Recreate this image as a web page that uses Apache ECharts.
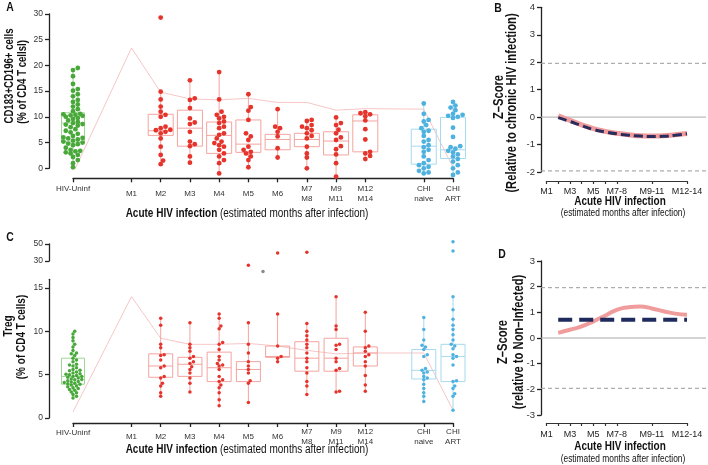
<!DOCTYPE html>
<html><head><meta charset="utf-8">
<script src="https://cdn.jsdelivr.net/npm/echarts@6/dist/echarts.min.js"></script>
<style>html,body{margin:0;padding:0;background:#fff}#c{width:708px;height:465px}</style>
</head><body><div id="c"></div>
<script>
// ---------------- DATA ----------------
const categories = ['HIV-Uninf','','M1','M2','M3','M4','M5','M6','M7\nM8','M9\nM11','M12\nM14','','CHI\nnaive','CHI\nART'];
const labelledCats = ['HIV-Uninf','M1','M2','M3','M4','M5','M6','M7\nM8','M9\nM11','M12\nM14','CHI\nnaive','CHI\nART'];

// Panel A: CD183+CD196+ (% of CD4 T cells)
const cd_HIVUninf = [19.5,19.1,17.9,16.4,15.4,15.1,14.4,14.0,13.3,12.9,12.4,12.0,11.5,11.1,10.6,10.5,10.4,10.3,10.2,10.0,9.8,9.6,9.3,9.0,8.8,8.6,8.5,8.3,8.0,7.6,7.3,7.0,6.7,6.3,6.0,5.9,5.8,5.6,5.4,5.2,5.0,4.8,4.7,4.5,4.0,3.6,3.4,3.3,3.1,2.9,2.6,2.2,1.6,1.0,0.2];
const cd_M2 = [29.3,14.9,13.4,12.0,11.0,10.4,10.0,8.1,7.8,7.5,7.4,7.1,6.8,5.8,4.2,2.6,1.5,0.8];
const cd_M3 = [17.1,13.6,13.3,11.7,9.7,8.9,8.6,7.1,5.2,4.7,4.3,2.3,1.1];
const cd_M4 = [18.7,13.4,11.0,10.4,10.0,9.7,9.1,8.8,8.1,7.8,6.8,6.5,5.8,5.2,4.9,4.5,4.2,3.6,2.9,2.3,1.6,1.0,-1.0];
const cd_M5 = [14.4,11.9,11.2,9.4,6.8,6.2,5.5,4.2,3.6,3.2,2.9,2.3,1.6,0.2];
const cd_M6 = [11.5,8.1,7.8,7.1,6.2,3.9,2.1];
const cd_M7M8 = [9.4,9.2,8.4,8.1,7.8,7.4,6.8,6.3,5.8,4.2,2.9,2.1,0.0];
const cd_M9M11 = [9.9,8.8,8.4,7.5,6.8,6.0,5.5,4.3,3.7,2.7,1.0,-1.6];
const cd_M12M14 = [10.9,10.7,10.5,10.1,9.3,7.6,5.6,3.2,2.9,2.4,1.8];
const cd_CHInaive = [12.6,10.6,9.4,9.1,8.4,7.8,7.3,7.1,6.3,5.5,5.2,4.5,4.1,3.6,3.2,2.3,1.6,1.0,0.6,0.3,0.0,-0.5,-0.8,-1.0];
const cd_CHIART = [12.9,12.2,11.8,11.3,10.6,10.4,10.2,10.0,9.8,7.9,6.1,4.3,4.1,3.8,3.4,3.1,2.7,2.3,1.8,1.3,0.6,0.0,-0.8,-1.3];
// box stats: [category, min, Q1, median, Q3, max]
const cdBoxes = [
  ['HIV-Uninf',0.0,5.1,8.8,10.8,19.5],['M2',0.8,6.4,7.3,10.5,14.9],['M3',1.1,4.3,7.8,11.3,17.1],
  ['M4',-1.0,2.9,6.4,9.0,18.7],['M5',0.2,3.1,4.7,9.4,14.4],['M6',2.1,3.6,5.6,6.6,11.5],
  ['M7\nM8',0.0,4.2,5.6,6.8,9.4],['M9\nM11',-1.6,2.6,5.3,7.1,9.9],['M12\nM14',1.8,3.2,9.2,10.4,10.9],
  ['CHI\nnaive',-1.0,0.8,4.3,7.6,12.6],['CHI\nART',-1.3,1.9,3.6,9.9,12.9]
];
const cdTrend = [['HIV-Uninf',-1.0],['M1',23.4],['M2',14.8],['M3',13.5],['M4',13.3],['M5',13.6],['M6',12.8],['M7\nM8',12.8],['M9\nM11',11.3],['M12\nM14',11.6],['CHI\nnaive',11.5],['CHI\nART',0.2]];

// Panel C: Treg (% of CD4 T cells)
const tr_HIVUninf = [10.0,9.7,9.3,8.9,8.5,8.2,7.8,7.5,7.4,7.2,6.9,6.7,6.5,6.2,6.1,6.0,5.8,5.6,5.5,5.45,5.3,5.2,5.1,5.05,5.0,4.9,4.8,4.8,4.7,4.6,4.5,4.45,4.4,4.3,4.2,4.15,4.1,4.0,3.95,3.9,3.8,3.7,3.6,3.5,3.4,3.3,3.2,3.0,2.9,2.7,2.5,2.3];
const tr_M2 = [11.5,10.7,8.5,8.1,7.3,7.2,6.7,6.0,5.8,4.8,4.6,4.0,3.7,2.9,2.5];
const tr_M3 = [11.0,8.5,8.1,7.7,7.1,6.9,6.5,6.3,5.9,5.6,5.2,4.6,4.0,3.0];
const tr_M4 = [12.0,11.5,10.6,10.3,8.7,8.5,7.9,7.1,6.7,6.3,6.1,6.0,5.6,4.8,4.4,4.2,3.8,3.5,2.9,2.1,1.4];
const tr_M5 = [25.0,11.0,8.5,7.5,6.5,6.0,5.6,5.2,4.3,4.0,1.8];
const tr_M6 = [39.4,12.0,8.3,7.1,6.9,6.5];
const tr_M7M8 = [40.2,10.9,10.0,9.5,9.0,8.5,8.1,7.5,6.9,6.5,5.8,5.2,4.2,3.7,2.7];
const tr_M9M11 = [14.0,10.6,10.2,8.5,8.4,7.9,6.9,6.5,5.7,5.5,3.1,3.0];
const tr_M12M14 = [12.2,10.0,8.3,8.1,7.7,7.3,7.1,6.5,6.0,4.9,3.8,3.1];
const tr_CHInaive = [11.6,10.2,9.0,8.4,8.2,7.9,7.3,7.1,5.7,5.5,5.3,5.2,4.8,4.6,4.4,3.9,3.4,2.9,2.5,1.9];
const tr_CHIART = [52.7,41.8,14.0,12.5,11.4,10.7,10.2,9.6,9.0,8.5,8.3,8.0,7.3,7.1,6.9,6.1,4.3,4.2,3.7,3.4,2.8,2.5,0.9];
const tr_other = [[6.5,16.9]];
const trBoxes = [
  ['HIV-Uninf',2.3,3.9,4.8,6.9,10.0],['M2',2.5,4.7,6.0,7.4,11.5],['M3',3.0,4.8,6.2,7.0,11.0],
  ['M4',1.4,4.2,5.8,7.6,12.0],['M5',1.8,4.2,5.6,6.5,11.0],['M6',6.5,7.0,7.1,8.3,12.0],
  ['M7\nM8',2.7,5.4,6.9,8.8,10.9],['M9\nM11',3.0,5.4,6.9,9.2,14.0],['M12\nM14',3.1,6.0,7.5,8.2,12.2],
  ['CHI\nnaive',1.9,4.5,5.5,7.9,11.6],['CHI\nART',0.9,4.2,7.1,8.5,14.0]
];
const trTrend = [['HIV-Uninf',0.7],['M1',14.0],['M2',9.2],['M3',8.5],['M4',8.5],['M5',8.6],['M6',8.3],['M7\nM8',7.8],['M9\nM11',7.4],['M12\nM14',7.5],['CHI\nnaive',7.5],['CHI\nART',0.9]];

// Panels B and D: Z-scores by month
const monthTicks = [1,2,3,4,5,6,7,10,13];
const monthLabelVals = [1,3,5,7,10,13];
const monthLabelText = ['M1','M3','M5','M7-8','M9-11','M12-14'];
const zMonths = [2,3,4,5,6,7,8,9,10,11,12,13];
const zB_pink = [0.05,-0.12,-0.28,-0.42,-0.52,-0.59,-0.64,-0.68,-0.69,-0.68,-0.64,-0.60];
const zB_navy = [-0.02,-0.16,-0.31,-0.45,-0.54,-0.61,-0.66,-0.69,-0.71,-0.70,-0.66,-0.61];
const zD_pink = [0.20,0.32,0.45,0.65,0.87,1.10,1.20,1.23,1.15,1.04,0.95,0.91];
const zD_navy = [0.71,0.71,0.71,0.71,0.71,0.71,0.71,0.71,0.71,0.71,0.71,0.71];
const zLimit = 1.96;

// ---------------- STYLE ----------------
const FONT = '"Liberation Sans", Arial, sans-serif';
const SX = 0.8; // horizontal condensing of title text (narrow typeface look)
const GREEN = '#48a83a', GREEN_L = '#9ed795';
const RED = '#e5342c', RED_L = '#f3a4a0';
const BLUE = '#4fb1df', BLUE_L = '#a6daef';
const TREND = '#f7c6c6';
const AXC = '#222';
function grpColor(c){ return c==='HIV-Uninf' ? [GREEN,GREEN_L] : (c.indexOf('CHI')===0 ? [BLUE,BLUE_L] : [RED,RED_L]); }
const catIdx = c => categories.indexOf(c);

const A_LEFT = 73, A_W = 380, PX_PER_X = A_W/13;

// beeswarm (layout only: horizontal offsets in px)
function swarm(values, pxPerUnit, diam, maxHalf){
  const order = values.map((v,i)=>i).sort((a,b)=>values[a]-values[b]);
  const placed = []; const offs = new Array(values.length).fill(0);
  const step = diam*0.5;
  const cands=[0]; for(let s=1;s*step<=maxHalf;s++){cands.push(s*step,-s*step);}
  for (const i of order){
    const y = values[i]*pxPerUnit;
    let best=0, bestD=-1;
    for (const dx of cands){
      let md = Infinity;
      for (const p of placed){ const d=(p.x-dx)*(p.x-dx)+(p.y-y)*(p.y-y); if(d<md) md=d; }
      if (md >= diam*diam*0.7){ best=dx; bestD=Infinity; break; }
      if (md > bestD){ bestD=md; best=dx; }
    }
    offs[i]=best; placed.push({x:best,y:y});
  }
  return offs;
}
function buildPoints(groups, pxPerUnit, diam, maxHalf, filter){
  const out = {g:[],r:[],b:[]};
  groups.forEach(([c, vals])=>{
    const v = vals.filter(filter);
    const offs = swarm(v, pxPerUnit, diam, maxHalf);
    const key = c==='HIV-Uninf'?'g':(c.indexOf('CHI')===0?'b':'r');
    v.forEach((val,i)=> out[key].push([catIdx(c)+offs[i]/PX_PER_X, val]));
  });
  return out;
}
const cdGroups = [['HIV-Uninf',cd_HIVUninf],['M2',cd_M2],['M3',cd_M3],['M4',cd_M4],['M5',cd_M5],['M6',cd_M6],['M7\nM8',cd_M7M8],['M9\nM11',cd_M9M11],['M12\nM14',cd_M12M14],['CHI\nnaive',cd_CHInaive],['CHI\nART',cd_CHIART]];
const trGroups = [['HIV-Uninf',tr_HIVUninf],['M2',tr_M2],['M3',tr_M3],['M4',tr_M4],['M5',tr_M5],['M6',tr_M6],['M7\nM8',tr_M7M8],['M9\nM11',tr_M9M11],['M12\nM14',tr_M12M14],['CHI\nnaive',tr_CHInaive],['CHI\nART',tr_CHIART]];

const A_PXU = 154.3/30, C_PXU = 138.7/16, CU_PXU = 17/20;
const ptsA = buildPoints(cdGroups, A_PXU, 4.8, 10, v=>true);
const ptsC = buildPoints(trGroups, C_PXU, 3.5, 10, v=>v<=20);
const ptsCU = buildPoints(trGroups, CU_PXU*4, 3.5, 10, v=>v>20);

function boxSeries(boxes, xi, yi, widthFn){
  return {
    type:'custom', xAxisIndex:xi, yAxisIndex:yi, z:3, clip:false, silent:true,
    data: boxes.map(b=>[catIdx(b[0]), b[1], b[2], b[3], b[4], b[5]]),
    encode:{x:0, y:[1,2,3,4,5]},
    renderItem:(params, api)=>{
      const x = api.value(0);
      const c = boxes[params.dataIndex][0];
      const col = grpColor(c)[1];
      const hw = widthFn(c)/2;
      const pMin = api.coord([x, api.value(1)]), pQ1 = api.coord([x, api.value(2)]);
      const pMed = api.coord([x, api.value(3)]), pQ3 = api.coord([x, api.value(4)]);
      const pMax = api.coord([x, api.value(5)]);
      const st = {stroke:col, lineWidth:1, fill:null};
      return {type:'group', children:[
        {type:'line', shape:{x1:pMin[0],y1:pMin[1],x2:pQ1[0],y2:pQ1[1]}, style:st},
        {type:'line', shape:{x1:pQ3[0],y1:pQ3[1],x2:pMax[0],y2:pMax[1]}, style:st},
        {type:'rect', shape:{x:pQ3[0]-hw, y:pQ3[1], width:hw*2, height:pQ1[1]-pQ3[1]}, style:{stroke:col,lineWidth:1,fill:'rgba(255,255,255,0)'}},
        {type:'line', shape:{x1:pMed[0]-hw,y1:pMed[1],x2:pMed[0]+hw,y2:pMed[1]}, style:st}
      ]};
    }
  };
}
function scatter(data, color, xi, yi, size){
  return {type:'scatter', xAxisIndex:xi, yAxisIndex:yi, data:data, symbolSize:size, clip:false, z:5, silent:true,
    itemStyle:{color:color, opacity:1}};
}
function trendSeries(trend, xi, yi){
  return {type:'line', xAxisIndex:xi, yAxisIndex:yi, data:trend.map(t=>[catIdx(t[0]), t[1]]), symbol:'none', z:1, silent:true,
    lineStyle:{color:TREND, width:1}};
}
function refLines(xi, yi){
  const mk = (v, type, col)=>({type:'line', xAxisIndex:xi, yAxisIndex:yi, data:[[0,v],[1,v]], symbol:'none', silent:true, z:1,
    lineStyle:{color:col, width:1, type:type}});
  return [mk(zLimit,[4,3],'#9a9a9a'), mk(-zLimit,[4,3],'#9a9a9a'), mk(0,'solid','#aaaaaa')];
}

const catLabelFmt = v => { const c = categories[Math.round(v)]; return c==='HIV-Uninf' ? '{u|HIV-Uninf}' : c; };
const catTickVals = labelledCats.map(catIdx);
function catXAxis(gi, offset, margin, up){
  return {type:'value', gridIndex:gi, min:0, max:13, offset:offset,
    axisLine:{show:true, onZero:false, lineStyle:{color:AXC, width:1.3}},
    axisTick:{show:true, length:4, customValues:catTickVals, lineStyle:{color:AXC, width:1.3}},
    axisLabel:{show:true, customValues:catTickVals, formatter:catLabelFmt, margin:margin, verticalAlign:'middle',
      fontSize:8, lineHeight:10, color:'#333', fontFamily:FONT,
      rich:{u:{fontSize:8, color:'#333', fontFamily:FONT, padding:[0,0,up,0]}}},
    splitLine:{show:false}};
}
function monthXAxis(gi, offset, margin){
  return {type:'value', gridIndex:gi, min:1, max:13, offset:offset,
    axisLine:{show:true, onZero:false, lineStyle:{color:'#333', width:1.2}},
    axisTick:{show:true, length:3, customValues:monthTicks, lineStyle:{color:'#333', width:1.2}},
    axisLabel:{show:true, customValues:monthLabelVals, margin:margin, verticalAlign:'middle',
      formatter:v=>monthLabelText[monthLabelVals.indexOf(Math.round(v))] || '',
      fontSize:9, color:'#222', fontFamily:FONT},
    splitLine:{show:false}};
}
function hiddenX(gi, min, max){ return {type:'value', gridIndex:gi, min:min, max:max, show:false}; }
function hiddenY(gi, min, max){ return {type:'value', gridIndex:gi, min:min, max:max, show:false}; }
function valYAxis(gi, min, max, offset, ticks, fs){
  const o = {type:'value', gridIndex:gi, min:min, max:max, offset:offset,
    axisLine:{show:true, onZero:false, lineStyle:{color:AXC, width:1.3}},
    axisTick:{show:true, length:4, lineStyle:{color:AXC, width:1.3}},
    axisLabel:{show:true, margin:6, fontSize:fs||8.5, color:'#333', fontFamily:FONT},
    splitLine:{show:false}};
  if (ticks){ o.axisTick.customValues = ticks; o.axisLabel.customValues = ticks; } else { o.interval = (max-min>10?5:1); }
  return o;
}

const titleText = (x,y,txt,rot,size,weight)=>({type:'text', x:x, y:y, rotation:rot||0, scaleX:SX, silent:true,
  style:{text:txt, fontSize:size, fontWeight:weight||'bold', fontFamily:FONT, fill:'#111', align:'center', verticalAlign:'middle'}});
const axisTitle = (x,y)=>({type:'text', x:x, y:y, scaleX:SX, silent:true,
  style:{text:'{b|Acute HIV infection} {n|(estimated months after infection)}', align:'center', verticalAlign:'middle',
    rich:{b:{fontSize:12.5, fontWeight:'bold', fontFamily:FONT, fill:'#111'}, n:{fontSize:12.5, fontFamily:FONT, fill:'#111'}}}});

const option = {
  animation:false,
  backgroundColor:'#fff',
  grid:[
    {left:A_LEFT, top:14, width:A_W, height:154.3},
    {left:A_LEFT, top:279.3, width:A_W, height:138.7},
    {left:A_LEFT, top:244, width:A_W, height:17},
    {left:546.5, top:7.3, width:140.5, height:164.7},
    {left:541, top:7.3, width:165, height:164.7},
    {left:546.5, top:261, width:140.5, height:154},
    {left:541, top:261, width:165, height:154}
  ],
  xAxis:[
    catXAxis(0, 10, 15, 10),
    catXAxis(1, 5, 14, 9),
    hiddenX(2, 0, 13),
    monthXAxis(3, 9, 11),
    hiddenX(4, 0, 1),
    monthXAxis(5, 8, 12),
    hiddenX(6, 0, 1)
  ],
  yAxis:[
    valYAxis(0, 0, 30, 24),
    valYAxis(1, 0, 16, 24, [0,5,10,15]),
    valYAxis(2, 30, 50, 24, [30,50]),
    Object.assign(valYAxis(3, -2, 4, 5.5, null, 9.5), {interval:1}),
    hiddenY(4, -2, 4),
    Object.assign(valYAxis(5, -3, 3, 5.5, null, 9.5), {interval:1}),
    hiddenY(6, -3, 3)
  ],
  series:[
    trendSeries(cdTrend, 0, 0),
    boxSeries(cdBoxes, 0, 0, c=>c==='HIV-Uninf'?23:25),
    scatter(ptsA.g, GREEN, 0, 0, 4.8), scatter(ptsA.r, RED, 0, 0, 4.8), scatter(ptsA.b, BLUE, 0, 0, 4.8),
    trendSeries(trTrend, 1, 1),
    boxSeries(trBoxes, 1, 1, c=>c==='HIV-Uninf'?23:24),
    scatter(ptsC.g, GREEN, 1, 1, 3.5), scatter(ptsC.r, RED, 1, 1, 3.5), scatter(ptsC.b, BLUE, 1, 1, 3.5),
    scatter(ptsCU.r, RED, 2, 2, 3.5), scatter(ptsCU.b, BLUE, 2, 2, 3.5),
    scatter(tr_other, '#8a8a8a', 1, 1, 3.5),
    ...refLines(4, 4),
    {type:'line', xAxisIndex:3, yAxisIndex:3, data:zMonths.map((m,i)=>[m,zB_pink[i]]), smooth:true, symbol:'none', z:2, silent:true,
      lineStyle:{color:'#f09c9c', width:5}},
    {type:'line', xAxisIndex:3, yAxisIndex:3, data:zMonths.map((m,i)=>[m,zB_navy[i]]), smooth:true, symbol:'none', z:3, silent:true,
      lineStyle:{color:'#2a2c5e', width:3, type:[9,4]}},
    ...refLines(6, 6),
    {type:'line', xAxisIndex:5, yAxisIndex:5, data:zMonths.map((m,i)=>[m,zD_pink[i]]), smooth:true, symbol:'none', z:2, silent:true,
      lineStyle:{color:'#f09c9c', width:4}},
    {type:'line', xAxisIndex:5, yAxisIndex:5, data:zMonths.map((m,i)=>[m,zD_navy[i]]), symbol:'none', z:3, silent:true,
      lineStyle:{color:'#1f2b5c', width:4, type:[14,7]}}
  ],
  graphic:[
    titleText(10, 7, 'A', 0, 13),
    titleText(10, 237, 'C', 0, 13),
    titleText(498, 8, 'B', 0, 13),
    titleText(502, 254, 'D', 0, 13),
    titleText(10, 76, 'CD183+CD196+ cells', Math.PI/2, 12),
    titleText(23, 82, '(% of CD4 T cellsl)', Math.PI/2, 12),
    titleText(9, 326, 'Treg', Math.PI/2, 12.5),
    titleText(22, 337, '(% of CD4 T cells)', Math.PI/2, 12.5),
    titleText(499, 97, 'Z–Score', Math.PI/2, 14),
    titleText(512, 103, '(Relative to chronic HIV infection)', Math.PI/2, 14),
    titleText(503, 342, 'Z–Score', Math.PI/2, 14),
    titleText(519, 342, '(relative to Non–Infected)', Math.PI/2, 14),
    axisTitle(247, 214),
    axisTitle(247, 450),
    titleText(620, 202, 'Acute HIV infection', 0, 12.5),
    titleText(623, 213, '(estimated months after infection)', 0, 10.5, 'normal'),
    titleText(620, 447, 'Acute HIV infection', 0, 12.5),
    titleText(623, 459, '(estimated months after infection)', 0, 10.5, 'normal')
  ]
};
const chart = echarts.init(document.getElementById('c'), null, {renderer:'canvas'});
chart.setOption(option);
</script></body></html>
